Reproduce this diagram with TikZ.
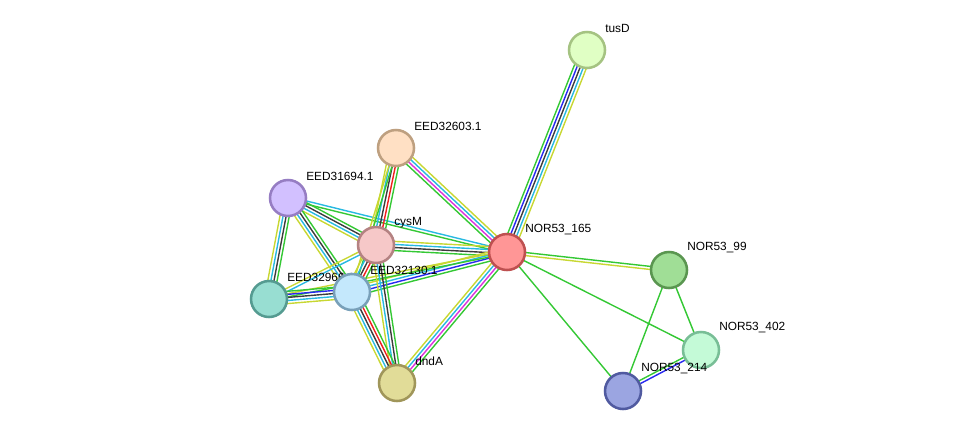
\documentclass[tikz,border=0pt]{standalone}
\usepackage{fontspec}
\setmainfont{Liberation Sans}
\usetikzlibrary{calc,backgrounds}

% evidence colours
\definecolor{evgreen}{RGB}{52,200,52}
\definecolor{evred}{RGB}{240,30,30}
\definecolor{evblue}{RGB}{40,40,240}
\definecolor{evblack}{RGB}{60,60,60}
\definecolor{evmagenta}{RGB}{220,50,220}
\definecolor{evcyan}{RGB}{40,185,225}
\definecolor{evyellow}{RGB}{200,215,50}

% protein colours (fill / rim)
\definecolor{tusDf}{RGB}{224,255,196}    \definecolor{tusDd}{RGB}{165,195,130}
\definecolor{e32603f}{RGB}{255,224,196}  \definecolor{e32603d}{RGB}{190,160,128}
\definecolor{e31694f}{RGB}{210,192,255}  \definecolor{e31694d}{RGB}{150,125,195}
\definecolor{cysMf}{RGB}{246,200,200}    \definecolor{cysMd}{RGB}{180,130,130}
\definecolor{n165f}{RGB}{255,150,150}    \definecolor{n165d}{RGB}{190,80,80}
\definecolor{e3296f}{RGB}{152,222,210}   \definecolor{e3296d}{RGB}{85,155,145}
\definecolor{e32130f}{RGB}{196,232,252}  \definecolor{e32130d}{RGB}{120,160,185}
\definecolor{dndAf}{RGB}{225,220,152}    \definecolor{dndAd}{RGB}{160,150,90}
\definecolor{n99f}{RGB}{160,222,150}     \definecolor{n99d}{RGB}{90,150,80}
\definecolor{n402f}{RGB}{196,250,215}    \definecolor{n402d}{RGB}{120,190,150}
\definecolor{n214f}{RGB}{155,165,225}    \definecolor{n214d}{RGB}{80,90,160}

\tikzset{
  prot/.style={circle, minimum size=27pt, inner sep=0pt, line width=1.9pt,
    fill=#1f, draw=#1d},
  lbl/.style={anchor=west, inner sep=0pt, font=\fontsize{8.9pt}{10pt}\selectfont},
  edge/.style={line width=1.05pt},
}

% parallel strands between two nodes: from, to, count, colours
\newcommand{\strands}[4]{%
  \foreach \col [count=\k] in {#4}{
    \draw[edge, color=\col] let \p1=($(#2.center)-(#1.center)$),
      \n1={atan2(\y1,\x1)-90}, \n2={(\k-(#3+1)/2)*2.3} in
      ($(#1.center)+(\n1:\n2 pt)$) -- ($(#2.center)+(\n1:\n2 pt)$);
  }}

\begin{document}
\begin{tikzpicture}[x=0.75pt, y=-0.75pt]
\useasboundingbox (0,0) rectangle (975,437);

% proteins
\node[prot=tusD] (tusD) at (587,50) {};
\node[lbl] (tusD-l) at ([shift={(18,-22)}]tusD.center) {tusD};
\node[prot=e32603] (e32603) at (396,148) {};
\node[lbl] (e32603-l) at ([shift={(18,-22)}]e32603.center) {EED32603.1};
\node[prot=e31694] (e31694) at (288,198) {};
\node[lbl] (e31694-l) at ([shift={(18,-22)}]e31694.center) {EED31694.1};
\node[prot=cysM] (cysM) at (376,245) {};
\node[lbl] (cysM-l) at ([shift={(18,-22)}]cysM.center) {cysM};
\node[prot=n165] (n165) at (507,252) {};
\node[lbl] (n165-l) at ([shift={(18,-22)}]n165.center) {NOR53\_165};
\node[prot=e3296] (e3296) at (269,299) {};
\node[lbl] (e3296-l) at ([shift={(18,-22)}]e3296.center) {EED32966.1};
\node[prot=e32130] (e32130) at (352,292) {};
\node[lbl] (e32130-l) at ([shift={(18,-22)}]e32130.center) {EED32130.1};
\node[prot=dndA] (dndA) at (397,383) {};
\node[lbl] (dndA-l) at ([shift={(18,-22)}]dndA.center) {dndA};
\node[prot=n99] (n99) at (669,270) {};
\node[lbl] (n99-l) at ([shift={(18,-22)}]n99.center) {NOR53\_99};
\node[prot=n402] (n402) at (701,350) {};
\node[lbl] (n402-l) at ([shift={(18,-22)}]n402.center) {NOR53\_402};
\node[prot=n214] (n214) at (623,391) {};
\node[lbl] (n214-l) at ([shift={(18,-22)}]n214.center) {NOR53\_214};

% evidence links
\begin{scope}[on background layer]
\strands{n165}{tusD}{5}{evgreen,evblue,evblack,evcyan,evyellow}
\strands{n165}{e32603}{4}{evgreen,evmagenta,evcyan,evyellow}
\strands{n165}{dndA}{4}{evgreen,evmagenta,evcyan,evyellow}
\strands{n165}{e31694}{2}{evgreen,evcyan}
\strands{n165}{cysM}{4}{evgreen,evblack,evcyan,evyellow}
\strands{n165}{e32130}{4}{evgreen,evblue,evcyan,evyellow}
\strands{n165}{e3296}{2}{evgreen,evyellow}
\strands{n165}{n99}{2}{evgreen,evyellow}
\strands{n165}{n402}{1}{evgreen}
\strands{n165}{n214}{1}{evgreen}
\strands{n99}{n402}{1}{evgreen}
\strands{n99}{n214}{1}{evgreen}
\strands{n214}{n402}{2}{evgreen,evblue}
\strands{e32603}{cysM}{5}{evgreen,evred,evblack,evcyan,evyellow}
\strands{e32603}{e32130}{2}{evgreen,evyellow}
\strands{e31694}{cysM}{4}{evgreen,evblack,evcyan,evyellow}
\strands{e31694}{e3296}{4}{evgreen,evblack,evcyan,evyellow}
\strands{e31694}{e32130}{4}{evgreen,evblack,evcyan,evyellow}
\strands{cysM}{e3296}{2}{evcyan,evyellow}
\strands{cysM}{e32130}{5}{evgreen,evred,evblack,evcyan,evyellow}
\strands{cysM}{dndA}{4}{evgreen,evblack,evcyan,evyellow}
\strands{e32130}{dndA}{5}{evgreen,evred,evblack,evcyan,evyellow}
\strands{e3296}{e32130}{5}{evgreen,evblue,evblack,evcyan,evyellow}
\end{scope}
\end{tikzpicture}
\end{document}
